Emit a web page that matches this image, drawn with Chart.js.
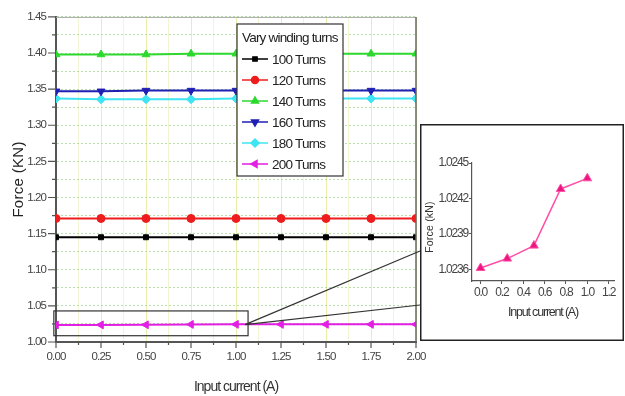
<!DOCTYPE html>
<html>
<head>
<meta charset="utf-8">
<script src="https://cdn.jsdelivr.net/npm/chart.js@4/dist/chart.umd.min.js"></script>
<style>
  html, body { margin:0; padding:0; background:#fff; }
  #wrap { position:relative; width:625px; height:396px; }
  #main { position:absolute; left:0; top:0; }
  #inset { position:absolute; left:420px; top:124px; }
</style>
</head>
<body>
<div id="wrap">
  <canvas id="main" width="625" height="396"></canvas>
  <canvas id="inset" width="204" height="217"></canvas>
</div>
<script>
// main chart data
const currents = [0, 0.25, 0.5, 0.75, 1.0, 1.25, 1.5, 1.75, 2.0];
const turns100 = [1.145, 1.145, 1.145, 1.145, 1.145, 1.145, 1.145, 1.145, 1.145];
const turns120 = [1.171, 1.171, 1.171, 1.171, 1.171, 1.171, 1.171, 1.171, 1.171];
const turns140 = [1.398, 1.398, 1.398, 1.399, 1.399, 1.399, 1.399, 1.399, 1.399];
const turns160 = [1.347, 1.347, 1.348, 1.348, 1.348, 1.348, 1.348, 1.348, 1.348];
const turns180 = [1.337, 1.336, 1.336, 1.336, 1.337, 1.337, 1.337, 1.337, 1.337];
const turns200 = [1.0236, 1.0237, 1.0238, 1.0243, 1.0244, 1.0244, 1.0244, 1.0244, 1.0244];
const seriesNames = ['100 Turns', '120 Turns', '140 Turns', '160 Turns', '180 Turns', '200 Turns'];
const legendTitle = 'Vary winding turns';
const xTitle = 'Input current (A)';
const yTitle = 'Force (KN)';

// inset data
const insetCurrents = [0, 0.25, 0.5, 0.75, 1.0];
const insetForce = [1.02361, 1.02369, 1.02380, 1.02428, 1.02437];
const insetXTicks = [0, 0.2, 0.4, 0.6, 0.8, 1.0, 1.2];
const insetYTicks = [1.0236, 1.0239, 1.0242, 1.0245];
const insetXTitle = 'Input current (A)';
const insetYTitle = 'Force (kN)';

const SANS = "'Liberation Sans', Arial, sans-serif";

const styles = [
    {color:'#000000', pointStyle:'rect', rotation:0, radius:3.5},
    {color:'#ee1c1c', pointStyle:'circle', rotation:0, radius:4},
    {color:'#2ed82e', pointStyle:'triangle', rotation:0, radius:4.5},
    {color:'#1f1fb4', pointStyle:'triangle', rotation:180, radius:4.5},
    {color:'#3ee4f2', pointStyle:'rectRot', rotation:0, radius:4.5},
    {color:'#e21fe2', pointStyle:'triangle', rotation:270, radius:4.5}
];

const values = [turns100, turns120, turns140, turns160, turns180, turns200];
const datasets = values.map((vals, i) => ({
    label: seriesNames[i],
    data: currents.map((x, j) => ({x, y: vals[j]})),
    borderColor: styles[i].color,
    backgroundColor: styles[i].color,
    borderWidth: 2,
    pointStyle: styles[i].pointStyle,
    rotation: styles[i].rotation,
    pointRadius: styles[i].radius,
    pointBorderWidth: 1,
    tension: 0
}));

// squeeze tick text a bit, the original uses a narrow font
function narrowText(spacing) {
    return {
        id:'narrow',
        beforeUpdate(chart) { chart.ctx.letterSpacing = spacing; },
        beforeDraw(chart) { chart.ctx.letterSpacing = spacing; }
    };
}

function drawText(ctx, text, x, y, font, spacing, color, rot) {
    ctx.save();
    ctx.font = font;
    ctx.letterSpacing = spacing;
    ctx.fillStyle = color;
    ctx.textAlign = 'center';
    ctx.textBaseline = 'middle';
    ctx.translate(x, y);
    if (rot) ctx.rotate(rot);
    ctx.fillText(text, 0, 0);
    ctx.restore();
}

function drawTickMarks(ctx, scale, isMajor, majorLen, minorLen) {
    ctx.save();
    ctx.strokeStyle = '#555';
    ctx.lineWidth = 1.2;
    ctx.beginPath();
    scale.ticks.forEach(t => {
        const len = isMajor(t.value) ? majorLen : minorLen;
        const p = scale.getPixelForValue(t.value);
        if (scale.isHorizontal()) {
            ctx.moveTo(p, scale.top);
            ctx.lineTo(p, scale.top + len);
        } else {
            ctx.moveTo(scale.right - len, p);
            ctx.lineTo(scale.right, p);
        }
    });
    ctx.stroke();
    ctx.restore();
}

const isMajorX = v => Math.round(v * 1000) % 250 === 0;
const isMajorY = v => Math.round(v * 1000) % 50 === 0;

const framePlugin = {
    id:'frame',
    afterDatasetsDraw(chart) {
        const {ctx, chartArea:a, scales:{x, y}} = chart;
        ctx.save();
        ctx.strokeStyle = '#a8a8a8';
        ctx.lineWidth = 1;
        ctx.beginPath();
        ctx.moveTo(a.left, a.top + 0.5);
        ctx.lineTo(a.right, a.top + 0.5);
        ctx.stroke();
        ctx.strokeStyle = '#666';
        ctx.lineWidth = 1.5;
        ctx.beginPath();
        ctx.moveTo(a.right, a.top);
        ctx.lineTo(a.right, a.bottom);
        ctx.stroke();

        // zoom box around the 200 turns series
        const bx1 = x.getPixelForValue(-0.012);
        const bx2 = x.getPixelForValue(1.067);
        const by1 = y.getPixelForValue(1.043);
        const by2 = y.getPixelForValue(1.0087);
        ctx.strokeStyle = '#333';
        ctx.lineWidth = 1.2;
        ctx.strokeRect(bx1, by1, bx2 - bx1, by2 - by1);
        const ax = bx2 - 3;
        const ay = y.getPixelForValue(1.024);
        ctx.beginPath();
        ctx.moveTo(ax, ay);
        ctx.lineTo(420, 251);
        ctx.moveTo(ax, ay);
        ctx.lineTo(420, 305);
        ctx.stroke();
        ctx.restore();
    },
    afterDraw(chart) {
        const {ctx, chartArea:a, scales:{x, y}} = chart;
        drawTickMarks(ctx, x, isMajorX, 6, 3);
        drawTickMarks(ctx, y, isMajorY, 8, 4);
        drawText(ctx, xTitle, (a.left + a.right) / 2, 387, '14px ' + SANS, '-1px', '#333');
        drawText(ctx, yTitle, 19, (a.top + a.bottom) / 2, '15px ' + SANS, '0.3px', '#222', -Math.PI / 2);

        // legend box
        const bx = 237, by = 24, bw = 106, bh = 152;
        ctx.save();
        ctx.letterSpacing = '-0.8px';
        ctx.fillStyle = '#fff';
        ctx.fillRect(bx, by, bw, bh);
        ctx.strokeStyle = '#333';
        ctx.lineWidth = 1.2;
        ctx.strokeRect(bx, by, bw, bh);
        ctx.font = '13.5px ' + SANS;
        ctx.fillStyle = '#222';
        ctx.textBaseline = 'middle';
        ctx.textAlign = 'left';
        ctx.fillText(legendTitle, 242, 38);
        chart.data.datasets.forEach((ds, i) => {
            const ry = 59 + i * 21;
            ctx.strokeStyle = ds.borderColor;
            ctx.fillStyle = ds.backgroundColor;
            ctx.lineWidth = 1.5;
            ctx.beginPath();
            ctx.moveTo(242, ry);
            ctx.lineTo(268, ry);
            ctx.stroke();
            Chart.helpers.drawPoint(ctx, {pointStyle: ds.pointStyle, rotation: ds.rotation,
                radius: ds.pointRadius - 0.5, borderWidth: 1}, 255, ry);
            ctx.fillStyle = '#222';
            ctx.fillText(ds.label, 272, ry + 1);
        });
        ctx.restore();
    }
};

new Chart(document.getElementById('main'), {
    type:'line',
    data:{datasets},
    options:{
        responsive:false,
        animation:false,
        layout:{padding:{top:13, right:209, left:0, bottom:0}},
        plugins:{legend:{display:false}, tooltip:{enabled:false}},
        scales:{
            x:{
                type:'linear', min:0, max:2,
                afterFit: s => { s.height = 54; },
                ticks:{
                    stepSize:0.125, autoSkip:false, maxRotation:0, padding:8,
                    color:'#444', font:{family:SANS, size:11.5},
                    callback: v => (isMajorX(v) ? v.toFixed(2) : '')
                },
                grid:{
                    color: c => (c.tick && isMajorX(c.tick.value) ? '#e9eeaa' : '#f3f4d4'),
                    lineWidth:1, drawTicks:false
                },
                border:{color:'#555', width:2}
            },
            y:{
                type:'linear', min:1.0, max:1.45,
                afterFit: s => { s.width = 56; },
                ticks:{
                    stepSize:0.025, autoSkip:false, padding:10,
                    color:'#444', font:{family:SANS, size:11.5},
                    callback: v => (isMajorY(v) ? v.toFixed(2) : '')
                },
                grid:{color:'#b9dfa8', lineWidth:1, drawTicks:false},
                border:{color:'#555', width:2, dash:[2, 2]}
            }
        }
    },
    plugins:[narrowText('-0.9px'), framePlugin]
});

const insetBorder = {
    id:'insetBorder',
    beforeDraw(chart) {
        const {ctx, width, height} = chart;
        ctx.save();
        ctx.fillStyle = '#fff';
        ctx.fillRect(0, 0, width, height);
        ctx.restore();
    },
    afterDraw(chart) {
        const {ctx, width, height, chartArea:a} = chart;
        ctx.save();
        ctx.strokeStyle = '#222';
        ctx.lineWidth = 1.5;
        ctx.strokeRect(0.75, 0.75, width - 1.5, height - 1.5);
        ctx.restore();
        drawText(ctx, insetXTitle, (a.left + a.right) / 2, 189, '12.5px ' + SANS, '-1.2px', '#333');
        drawText(ctx, insetYTitle, 10, 103, '10.5px ' + SANS, '0.2px', '#333', -Math.PI / 2);
    }
};

new Chart(document.getElementById('inset'), {
    type:'line',
    data:{datasets:[{
        data: insetCurrents.map((x, i) => ({x, y: insetForce[i]})),
        borderColor:'#ff4fa8',
        backgroundColor:'#ec1680',
        borderWidth:1.5,
        pointStyle:'triangle',
        pointRadius:5,
        pointBorderWidth:1,
        tension:0
    }]},
    options:{
        responsive:false,
        animation:false,
        layout:{padding:{top:39, right:10, left:0, bottom:0}},
        plugins:{legend:{display:false}, tooltip:{enabled:false}},
        scales:{
            x:{
                type:'linear', min:-0.08, max:1.25,
                afterFit: s => { s.height = 60; },
                afterBuildTicks: s => { s.ticks = insetXTicks.map(v => ({value:v})); },
                ticks:{color:'#444', font:{family:SANS, size:12}, padding:1, maxRotation:0,
                    callback: v => v.toFixed(1)},
                grid:{drawOnChartArea:false, tickLength:3, tickColor:'#555'},
                border:{color:'#555', width:1.2}
            },
            y:{
                type:'linear', min:1.0235, max:1.0245,
                afterFit: s => { s.width = 52; },
                afterBuildTicks: s => { s.ticks = insetYTicks.map(v => ({value:v})); },
                ticks:{color:'#444', font:{family:SANS, size:12}, padding:1,
                    callback: v => v.toFixed(4)},
                grid:{drawOnChartArea:false, tickLength:3, tickColor:'#555'},
                border:{color:'#555', width:1.2}
            }
        }
    },
    plugins:[narrowText('-1.2px'), insetBorder]
});
</script>
</body>
</html>
